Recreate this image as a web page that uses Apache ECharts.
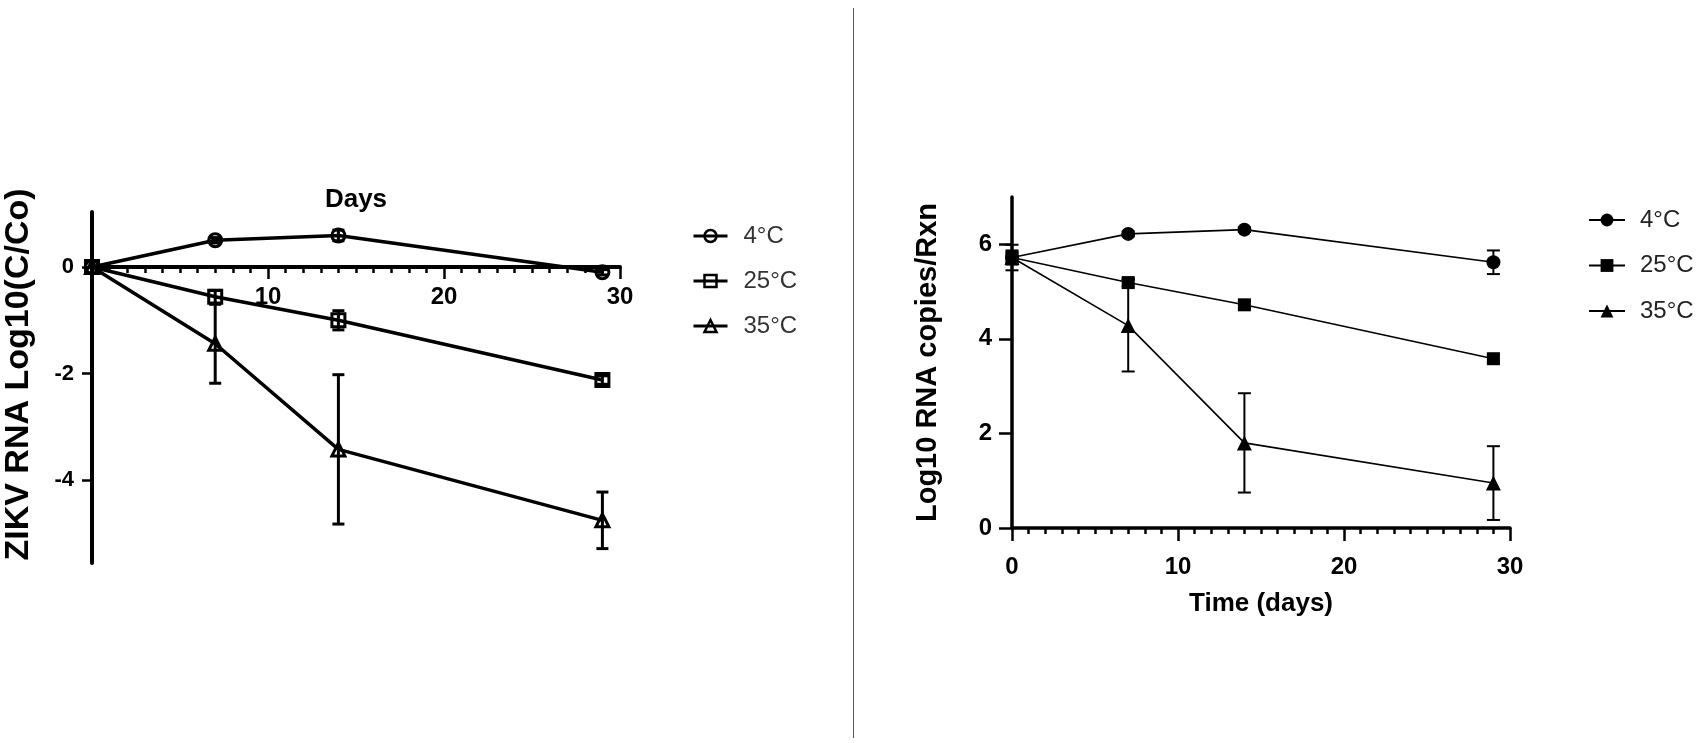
<!DOCTYPE html>
<html><head><meta charset="utf-8">
<script src="https://cdn.jsdelivr.net/npm/echarts@6/dist/echarts.min.js"></script>
<style>html,body{margin:0;padding:0;background:#fff}#c{width:1707px;height:743px}</style>
</head><body><div id="c"></div>
<script>
// ---- data ----
const days = [0, 7, 14, 29];
const tempNames = ['4°C', '25°C', '35°C'];

// Left panel: ZIKV RNA Log10(C/Co)
const zikv4 = [0, 0.5, 0.59, -0.1];
const zikv4Err = [0, 0.05, 0.1, 0.05];
const zikv25 = [0, -0.56, -1.0, -2.12];
const zikv25Err = [0, 0.12, 0.18, 0.08];
const zikv35 = [0, -1.44, -3.42, -4.75];
const zikv35Err = [0, 0.74, 1.4, 0.53];
const leftYTicks = [0, -2, -4];
const leftXTicks = [10, 20, 30];

// Right panel: Log10 RNA copies/Rxn
const rna4 = [5.72, 6.22, 6.31, 5.62];
const rna4Err = [0.1, 0.05, 0.05, 0.25];
const rna25 = [5.72, 5.19, 4.72, 3.58];
const rna25Err = [0.15, 0.08, 0.08, 0.08];
const rna35 = [5.72, 4.28, 1.8, 0.95];
const rna35Err = [0.27, 0.97, 1.05, 0.78];
const rightYTicks = [0, 2, 4, 6];

const FONT = '"Liberation Sans", Arial, sans-serif';
const pairs = (vals) => days.map((d, i) => [d, vals[i]]);

function errorBars(idx, vals, errs, lw, cap) {
  return {
    type: 'custom', xAxisIndex: idx, yAxisIndex: idx, silent: true, z: 1,
    encode: { x: 0, y: 1 },
    data: days.map((d, i) => [d, vals[i], errs[i]]),
    renderItem(params, api) {
      const x = api.value(0), y = api.value(1), e = api.value(2);
      if (!e) return null;
      const t = api.coord([x, y + e]), b = api.coord([x, y - e]);
      const st = { stroke: '#000', lineWidth: lw };
      return { type: 'group', children: [
        { type: 'line', shape: { x1: t[0], y1: t[1], x2: b[0], y2: b[1] }, style: st },
        { type: 'line', shape: { x1: t[0] - cap, y1: t[1], x2: t[0] + cap, y2: t[1] }, style: st },
        { type: 'line', shape: { x1: b[0] - cap, y1: b[1], x2: b[0] + cap, y2: b[1] }, style: st }
      ]};
    }
  };
}

function leftLine(name, vals, sym) {
  return {
    name, type: 'line', xAxisIndex: 0, yAxisIndex: 0, data: pairs(vals),
    symbol: sym, symbolSize: 13, z: 3,
    lineStyle: { color: '#000', width: 3.5 },
    itemStyle: { color: 'rgba(255,255,255,0)', borderColor: '#000', borderWidth: 3 }
  };
}
function rightLine(name, vals, sym, size) {
  return {
    name: 'RNA ' + name, type: 'line', xAxisIndex: 1, yAxisIndex: 1, data: pairs(vals),
    symbol: sym, symbolSize: size, z: 3,
    lineStyle: { color: '#000', width: 1.6 },
    itemStyle: { color: '#000' }
  };
}

const boldLabel = (size, margin) => ({ color: '#000', fontSize: size, fontWeight: 'bold', fontFamily: FONT, margin });

const option = {
  animation: false,
  backgroundColor: '#fff',
  textStyle: { fontFamily: FONT },
  grid: [
    { left: 92, right: 1087, top: 212, bottom: 180 },
    { left: 1012, right: 197, top: 197, bottom: 215 }
  ],
  xAxis: [
    {
      gridIndex: 0, type: 'value', min: 0, max: 30, interval: 10,
      position: 'top', offset: -55,
      name: 'Days', nameLocation: 'middle', nameGap: 54,
      nameTextStyle: { color: '#000', fontSize: 26, fontWeight: 'bold', fontFamily: FONT },
      axisLine: { onZero: false, lineStyle: { color: '#000', width: 4 } },
      axisTick: { show: true, inside: true, length: 12, lineStyle: { color: '#000', width: 2.5 } },
      minorTick: { show: true, splitNumber: 10, length: 6, lineStyle: { color: '#000', width: 2.5 } },
      axisLabel: Object.assign(boldLabel(24, 18), { inside: true, customValues: leftXTicks }),
      splitLine: { show: false }, minorSplitLine: { show: false }
    },
    {
      gridIndex: 1, type: 'value', min: 0, max: 30, interval: 10,
      name: 'Time (days)', nameLocation: 'middle', nameGap: 63,
      nameTextStyle: { color: '#000', fontSize: 26, fontWeight: 'bold', fontFamily: FONT },
      axisLine: { onZero: true, lineStyle: { color: '#000', width: 3.5 } },
      axisTick: { show: true, length: 13, lineStyle: { color: '#000', width: 2.5 } },
      minorTick: { show: true, splitNumber: 10, length: 6, lineStyle: { color: '#000', width: 2.5 } },
      axisLabel: boldLabel(24, 27),
      splitLine: { show: false }, minorSplitLine: { show: false }
    }
  ],
  yAxis: [
    {
      gridIndex: 0, type: 'value', min: -5.55, max: 1.03,
      name: 'ZIKV RNA Log10(C/Co)', nameLocation: 'middle', nameGap: 56,
      nameTextStyle: { color: '#000', fontSize: 34, fontWeight: 'bold', fontFamily: FONT, padding: [0, 0, 0, 26] },
      axisLine: { show: true, onZero: false, lineStyle: { color: '#000', width: 4 } },
      axisTick: { show: true, length: 10, customValues: leftYTicks, lineStyle: { color: '#000', width: 2.5 } },
      axisLabel: Object.assign(boldLabel(22, 18), { customValues: leftYTicks }),
      splitLine: { show: false }
    },
    {
      gridIndex: 1, type: 'value', min: 0, max: 7,
      name: 'Log10 RNA copies/Rxn', nameLocation: 'middle', nameGap: 70,
      nameTextStyle: { color: '#000', fontSize: 29, fontWeight: 'bold', fontFamily: FONT },
      axisLine: { show: true, lineStyle: { color: '#000', width: 3.5 } },
      axisTick: { show: true, length: 13, customValues: rightYTicks, lineStyle: { color: '#000', width: 2.5 } },
      axisLabel: Object.assign(boldLabel(24, 20), { customValues: rightYTicks }),
      splitLine: { show: false }
    }
  ],
  legend: [
    {
      data: tempNames, orient: 'vertical', left: 687, top: 219, itemGap: 21,
      itemWidth: 34, itemHeight: 15,
      lineStyle: { width: 3 },
      itemStyle: { borderWidth: 2.5 },
      textStyle: { fontSize: 24, color: '#333', fontFamily: FONT, padding: [0, 0, 0, 11] },
      selectedMode: false
    },
    {
      data: tempNames.map(n => 'RNA ' + n), orient: 'vertical', left: 1583, top: 203, itemGap: 21.5,
      itemWidth: 36, itemHeight: 16,
      lineStyle: { width: 2 },
      formatter: (n) => n.replace('RNA ', ''),
      textStyle: { fontSize: 24, color: '#222', fontFamily: FONT, padding: [0, 0, 0, 10] },
      selectedMode: false
    }
  ],
  graphic: [
    { type: 'line', shape: { x1: 853.5, y1: 8, x2: 853.5, y2: 738 }, style: { stroke: '#555', lineWidth: 1 } }
  ],
  series: [
    errorBars(0, zikv4, zikv4Err, 3, 6),
    errorBars(0, zikv25, zikv25Err, 3, 6),
    errorBars(0, zikv35, zikv35Err, 3, 6),
    leftLine('4°C', zikv4, 'circle'),
    leftLine('25°C', zikv25, 'rect'),
    leftLine('35°C', zikv35, 'triangle'),
    errorBars(1, rna4, rna4Err, 2, 6.5),
    errorBars(1, rna25, rna25Err, 2, 6.5),
    errorBars(1, rna35, rna35Err, 2, 6.5),
    rightLine('4°C', rna4, 'circle', 14),
    rightLine('25°C', rna25, 'rect', 13),
    rightLine('35°C', rna35, 'triangle', 15)
  ]
};

const chart = echarts.init(document.getElementById('c'), null, { renderer: 'canvas' });
chart.setOption(option);
</script>
</body></html>
